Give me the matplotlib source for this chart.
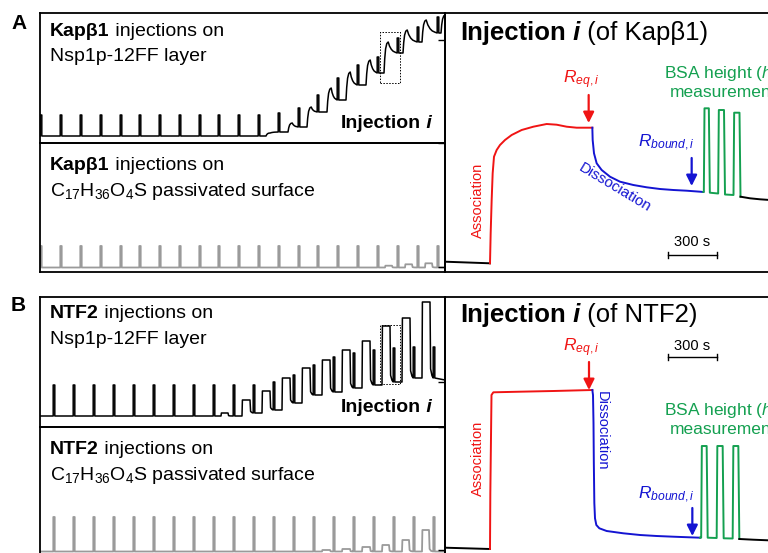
import matplotlib
matplotlib.use("Agg")
import matplotlib.pyplot as plt

# ---------------- data ----------------
# Left panels: x in time units along the run, y in signal units
kapA_spike_t = [1, 21, 41, 61, 81, 100, 120, 140, 160, 179, 199, 219, 239, 259, 278, 298, 318, 338, 358, 378, 398]
kapA_base = [7] * 12 + [11, 16, 31, 43, 58, 70, 90, 101, 110]
kapA_top = [28] * 12 + [30, 35, 48, 65, 78, 86, 105, 116, 126]
kapA_inj_t = [226, 248, 267, 287, 306, 326, 344, 363, 382, 401]
kapA_peak = [10, 20, 36, 55, 71, 83, 101, 113, 123, 128]

kapC_base = [4.5] * 21
kapC_top = [26] * 21
kapC_bump_t0 = [345, 365, 385]
kapC_bump_t1 = [352, 372, 392]
kapC_bump_top = [6.3, 7.7, 8.7]

ntf_spike_t = [14, 34, 54, 74, 94, 114, 134, 154, 174, 194, 214, 234, 254, 274, 294, 314, 334, 354, 374, 394]
ntfB_base = [11] * 10 + [14, 17, 24, 32, 35, 39, 42, 45, 49, 49]
ntfB_top = [42] * 11 + [45, 52, 62, 70, 74, 77, 79, 80, 80]
ntfB_rect_t0 = [181, 202, 222, 242, 262, 282, 302, 322, 342, 362, 382]
ntfB_rect_t1 = [188, 210, 230, 250, 270, 290, 310, 330, 350, 370, 390]
ntfB_rect_top = [14, 27, 36, 49, 59, 67, 77, 86, 101, 109, 125]
ntfB_end = 46

ntfC_base = [1.5] * 20
ntfC_top = [36] * 20
ntfC_bump_t0 = [282, 302, 322, 342, 362, 382]
ntfC_bump_t1 = [290, 310, 330, 349, 369, 389]
ntfC_bump_top = [3, 4, 6, 8, 13, 23]

# Right panel A (time in s, signal a.u.)
rA_base_t = [0, 270]
rA_base_y = [10.3, 8.7]
rA_assoc_t = [270, 274, 280, 286, 294, 310, 330, 360, 400, 460, 530, 610, 670, 730, 790, 850, 884]
rA_assoc_y = [8.7, 38.7, 72, 98.7, 115.3, 122, 127, 132, 137, 142, 145.3, 148, 147.3, 145.3, 144.3, 144.3, 144.3]
rA_dis_t = [884, 886, 894, 910, 940, 990, 1050, 1130, 1210, 1290, 1370, 1450, 1530, 1550]
rA_dis_y = [144.3, 132, 118.7, 108.7, 102, 95.3, 90.3, 87, 84.7, 83, 82, 81.3, 80.3, 80]
rA_bsa_t = [1550, 1553, 1557, 1583, 1589, 1639, 1643, 1674, 1680, 1731, 1735, 1767, 1773]
rA_bsa_y = [80, 80, 163.7, 163.7, 79.3, 78.5, 162, 162, 77.5, 77, 159.3, 159.3, 75.3]
rA_after_t = [1773, 1830, 1890, 1950, 2130]
rA_after_y = [75.3, 73.7, 72.7, 72, 71]

# Right panel B
rB_base_t = [0, 270]
rB_base_y = [5.3, 4]
rB_assoc_t = [270, 272, 279, 290, 450, 650, 884]
rB_assoc_y = [4, 60, 158, 160.7, 161.3, 162, 163]
rB_dis_t = [884, 888, 891, 893, 896, 900, 908, 926, 970, 1070, 1170, 1270, 1370, 1530]
rB_dis_y = [163, 158, 130, 90, 50, 34.7, 28, 24.7, 22, 19.7, 18, 17, 16.3, 15.3]
rB_bsa_t = [1530, 1537, 1541, 1570, 1576, 1630, 1634, 1666, 1672, 1726, 1730, 1760, 1766]
rB_bsa_y = [15.3, 15.3, 107, 107, 15.3, 15, 107, 107, 14.7, 14.5, 107, 107, 14]
rB_after_t = [1766, 1850, 1938, 2130]
rB_after_y = [14, 13.3, 12.7, 12]

# ---------------- style ----------------
plt.rcParams['font.family'] = ['Liberation Sans', 'DejaVu Sans']
plt.rcParams['mathtext.fontset'] = 'custom'
plt.rcParams['mathtext.rm'] = 'Liberation Sans'
plt.rcParams['mathtext.it'] = 'Liberation Sans:italic'
plt.rcParams['mathtext.bf'] = 'Liberation Sans:bold'

RED = '#f01414'
BLUE = '#1414d2'
GREEN = '#14a050'
GRAY = '#9a9a9a'
W, H = 768, 553

fig = plt.figure(figsize=(W / 100, H / 100), dpi=100)


def box(x0, y0, x1, y1, **kw):
    return fig.add_axes([x0 / W, 1 - y1 / H, (x1 - x0) / W, (y1 - y0) / H], **kw)


def style_box(ax, lw=1.3):
    ax.set_xticks([])
    ax.set_yticks([])
    for s in ax.spines.values():
        s.set_linewidth(lw)
        s.set_color('black')
    ax.patch.set_alpha(0)


def kinetic_trace(spike_t, base, top, inj_t, peak, t_end, w=1.6):
    xs, ys = [-5.0], [base[0]]
    level = base[0]
    prev = -5.0
    bounds = list(spike_t) + [t_end]
    for i, tb in enumerate(bounds):
        target = base[i] if i < len(spike_t) else None
        for ti, p in zip(inj_t, peak):
            if prev < ti < tb:
                xs.append(ti); ys.append(level)
                for dt, f in zip([0.7, 1.6, 2.8, 4.2], [0.45, 0.78, 0.95, 1.0]):
                    xs.append(ti + dt); ys.append(level + f * (p - level))
                tpk = ti + 4.2
                if target is None:
                    xs.append(t_end); ys.append(p)
                    level = p
                else:
                    d = (tb - w / 2) - tpk
                    for g, f in zip([0.15, 0.35, 0.55, 0.8, 1.0], [0.62, 0.33, 0.16, 0.06, 0.0]):
                        xs.append(tpk + g * d); ys.append(target + f * (p - target))
                    level = target
        if i < len(spike_t):
            xs += [tb - w / 2, tb - w / 2, tb + w / 2, tb + w / 2]
            ys += [base[i], top[i], top[i], base[i]]
            level = base[i]
            prev = tb
    return xs, ys


def square_trace(spike_t, base, top, r0, r1, rtop, t_end, end_level, w=1.6):
    xs, ys = [-5.0], [base[0]]
    level = base[0]
    prev = -5.0
    for i, tb in enumerate(spike_t):
        for a, b, h in zip(r0, r1, rtop):
            if prev < a < tb:
                bi = base[i]
                xs += [a, a + 0.4, b, b + 0.6, b + 2.0]
                ys += [level, h, h, bi + 0.12 * (h - bi), bi + 0.03 * (h - bi)]
        xs += [tb - w / 2, tb - w / 2, tb + w / 2, tb + w / 2]
        ys += [base[i], top[i], top[i], base[i]]
        level = base[i]
        prev = tb
    xs.append(t_end); ys.append(end_level)
    return xs, ys


# ---------------- left panels ----------------
axA1 = box(40, 13, 445, 143)
axA2 = box(40, 143, 445, 272)
axB1 = box(40, 297, 445, 427)
axB2 = box(40, 427, 445, 554)
for ax in (axA1, axA2, axB1, axB2):
    style_box(ax)
    ax.set_xlim(0, 405)

axA1.set_ylim(0, 130)
axA2.set_ylim(0, 129)
axB1.set_ylim(0, 130)
axB2.set_ylim(-1, 126)

x, y = kinetic_trace(kapA_spike_t, kapA_base, kapA_top, kapA_inj_t, kapA_peak, 410)
axA1.plot(x, y, color='black', lw=1.1)
axA1.plot([340, 360, 360, 340, 340], [60, 60, 111, 111, 60], color='black', lw=0.7, ls=(0, (1.5, 1.5)))

x, y = square_trace(kapA_spike_t, kapC_base, kapC_top, kapC_bump_t0, kapC_bump_t1, kapC_bump_top, 410, 4.5, w=1.4)
axA2.plot(x, y, color=GRAY, lw=1.3)

x, y = square_trace(ntf_spike_t, ntfB_base, ntfB_top, ntfB_rect_t0, ntfB_rect_t1, ntfB_rect_top, 410, ntfB_end)
axB1.plot(x, y, color='black', lw=1.1)
axB1.plot([340, 360, 360, 340, 340], [43, 43, 102, 102, 43], color='black', lw=0.7, ls=(0, (1.5, 1.5)))

x, y = square_trace(ntf_spike_t, ntfC_base, ntfC_top, ntfC_bump_t0, ntfC_bump_t1, ntfC_bump_top, 410, 1.5, w=1.4)
axB2.plot(x, y, color=GRAY, lw=1.3)

# ---------------- right panels ----------------
axA3 = box(445, 13, 805, 272)
axB3 = box(445, 297, 805, 556)
for ax in (axA3, axB3):
    style_box(ax)
    ax.set_xlim(0, 2160)
axA3.set_ylim(0, 259)
axB3.set_ylim(-3, 256)
axA3.set_yticks([232, 129, 5])
axB3.set_yticks([171, 126, 3])
for ax in (axA3, axB3):
    ax.tick_params(axis='y', direction='out', length=5, width=1.0, labelleft=False)

LW = 1.4
for ax, d in [(axA3, (rA_base_t, rA_base_y, rA_assoc_t, rA_assoc_y, rA_dis_t, rA_dis_y,
                      rA_bsa_t, rA_bsa_y, rA_after_t, rA_after_y)),
              (axB3, (rB_base_t, rB_base_y, rB_assoc_t, rB_assoc_y, rB_dis_t, rB_dis_y,
                      rB_bsa_t, rB_bsa_y, rB_after_t, rB_after_y))]:
    ax.plot(d[0], d[1], color='black', lw=LW)
    ax.plot(d[2], d[3], color=RED, lw=LW)
    ax.plot(d[4], d[5], color=BLUE, lw=LW)
    ax.plot(d[6], d[7], color=GREEN, lw=LW)
    ax.plot(d[8], d[9], color='black', lw=LW)


def arrow(ax, t, y0, y1, color):
    ax.annotate('', xy=(t, y1), xytext=(t, y0),
                arrowprops=dict(arrowstyle='-|>', color=color, lw=1.6, mutation_scale=16,
                                shrinkA=0, shrinkB=0))


def scalebar(ax, t0, t1, yb, ytext):
    ax.plot([t0, t1], [yb, yb], color='black', lw=1.0)
    ax.plot([t0, t0], [yb - 3, yb + 3], color='black', lw=1.0)
    ax.plot([t1, t1], [yb - 3, yb + 3], color='black', lw=1.0)
    ax.text((t0 + t1) / 2, ytext, '300 s', ha='center', va='center', fontsize=10.5)


# panel A right labels
axA3.text(820, 192, r'$R_{eq,i}$', color=RED, fontsize=12.5, ha='center', va='center')
arrow(axA3, 862, 177, 149, RED)
axA3.text(1330, 129, r'$R_{bound,i}$', color=BLUE, fontsize=12.5, ha='center', va='center')
arrow(axA3, 1480, 114, 86, BLUE)
axA3.text(200, 72, 'Association', color=RED, fontsize=10.5, rotation=90, ha='center', va='center')
axA3.text(1020, 84, 'Dissociation', color=BLUE, fontsize=11, rotation=-31, ha='center', va='center',
          rotation_mode='anchor')
axA3.text(1668, 190, 'BSA height ($h_i$)\nmeasurement', color=GREEN, fontsize=12.5,
          ha='center', va='center', linespacing=1.15)
scalebar(axA3, 1338, 1632, 17, 30)

# panel B right labels
axB3.text(820, 205, r'$R_{eq,i}$', color=RED, fontsize=12.5, ha='center', va='center')
arrow(axB3, 864, 191, 163, RED)
axB3.text(1330, 58, r'$R_{bound,i}$', color=BLUE, fontsize=12.5, ha='center', va='center')
arrow(axB3, 1484, 45, 17, BLUE)
axB3.text(200, 95, 'Association', color=RED, fontsize=10.5, rotation=90, ha='center', va='center')
axB3.text(942, 122, 'Dissociation', color=BLUE, fontsize=10.5, rotation=-90, ha='center', va='center')
axB3.text(1668, 134, 'BSA height ($h_i$)\nmeasurement', color=GREEN, fontsize=12.5,
          ha='center', va='center', linespacing=1.15)
scalebar(axB3, 1338, 1632, 196, 207)

# ---------------- text overlay (pixel coordinates) ----------------
ov = fig.add_axes([0, 0, 1, 1], zorder=10)
ov.set_xlim(0, W)
ov.set_ylim(H, 0)
ov.axis('off')


def rich(x, y, parts):
    s0, kw0 = parts[0]
    prev = ov.text(x, y, s0, va='baseline', ha='left', **kw0)
    for s, kw in parts[1:]:
        prev = ov.annotate(s, xy=(1, y), xycoords=(prev, 'data'), va='baseline', ha='left', **kw)
    return prev


B = dict(fontweight='bold')
BI = dict(fontweight='bold', fontstyle='italic')
FS = 14
rich(50, 36, [('Kapβ1', dict(B, fontsize=FS)), (' injections on', dict(fontsize=FS))])
rich(50, 61, [('Nsp1p-12FF layer', dict(fontsize=FS))])
rich(50, 170, [('Kapβ1', dict(B, fontsize=FS)), (' injections on', dict(fontsize=FS))])
rich(50, 196, [(r'C$_{17}$H$_{36}$O$_{4}$S passivated surface', dict(fontsize=FS))])
rich(50, 318, [('NTF2', dict(B, fontsize=FS)), (' injections on', dict(fontsize=FS))])
rich(50, 344, [('Nsp1p-12FF layer', dict(fontsize=FS))])
rich(50, 454, [('NTF2', dict(B, fontsize=FS)), (' injections on', dict(fontsize=FS))])
rich(50, 480, [(r'C$_{17}$H$_{36}$O$_{4}$S passivated surface', dict(fontsize=FS))])

rich(341, 128, [('Injection', dict(B, fontsize=FS)), (' i', dict(BI, fontsize=FS))])
rich(341, 412, [('Injection', dict(B, fontsize=FS)), (' i', dict(BI, fontsize=FS))])

TF = 18.5
rich(460, 40, [('Injection', dict(B, fontsize=TF)), (' i', dict(BI, fontsize=TF)),
               (' (of Kapβ1)', dict(fontsize=TF))])
rich(460, 322, [('Injection', dict(B, fontsize=TF)), (' i', dict(BI, fontsize=TF)),
                (' (of NTF2)', dict(fontsize=TF))])

ov.text(11, 29, 'A', fontsize=15, fontweight='bold', va='baseline')
ov.text(11, 311, 'B', fontsize=15, fontweight='bold', va='baseline')

fig.savefig('out.png', dpi=100)
